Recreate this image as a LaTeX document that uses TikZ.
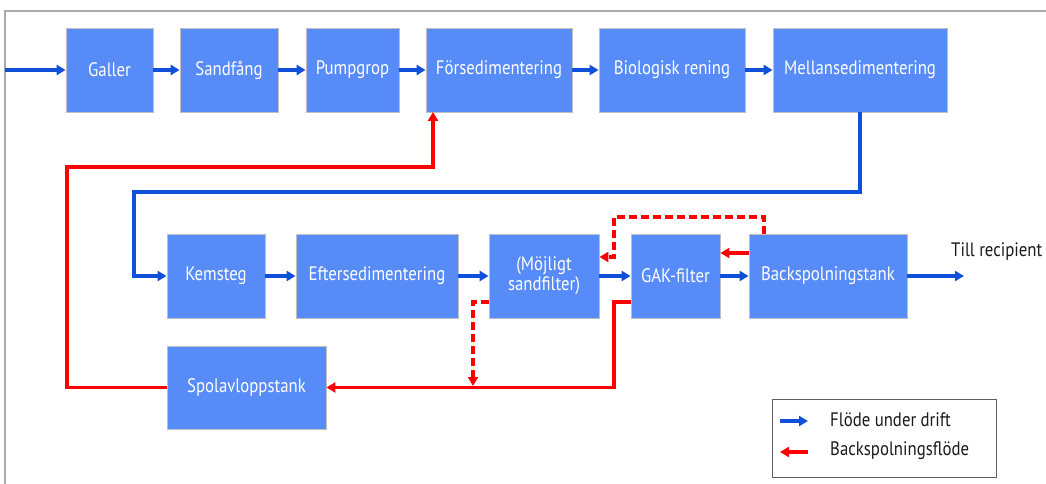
\documentclass[tikz,border=0pt]{standalone}
\usepackage{fontspec}
\setmainfont[FakeStretch=0.86]{PT Sans}
\usetikzlibrary{arrows.meta}
\definecolor{boxfill}{HTML}{568BF8}
\definecolor{boxline}{HTML}{C0C0C0}
\definecolor{flowblue}{HTML}{1050D8}
\definecolor{backred}{HTML}{FF0000}
\definecolor{frame}{HTML}{AAAAAA}
\definecolor{txt}{HTML}{1A1A1A}
\begin{document}
\begin{tikzpicture}[x=1pt,y=-1pt,
  proc/.style={draw=boxline,line width=0.8pt,fill=boxfill,text=white,
    minimum height=84pt,inner sep=2pt,align=center,
    font=\fontsize{19.5}{21}\selectfont},
  flow/.style={draw=flowblue,line width=3.2pt,
    -{Triangle[length=9pt,width=10pt]}},
  back/.style={draw=backred,line width=3.2pt,
    -{Triangle[length=9pt,width=10pt]}},
  backd/.style={back,dash pattern=on 8pt off 4pt},
  plain/.style={text=txt,font=\fontsize{19.5}{21}\selectfont,inner sep=0pt}]
\useasboundingbox (0,0) rectangle (1046,484);
\draw[frame,line width=1.5pt] (1046,11) -- (5,11) -- (5,484);
% row 1
\node[proc,minimum width=87pt]  (gal) at (109.5,70) {Galler};
\node[proc,minimum width=98pt]  (san) at (229,70) {Sandfång};
\node[proc,minimum width=93pt]  (pum) at (352.5,70) {Pumpgrop};
\node[proc,minimum width=146pt] (for) at (499,70) {Försedimentering};
\node[proc,minimum width=146pt] (bio) at (672,70) {Biologisk rening};
\node[proc,minimum width=174pt] (mel) at (860,70) {Mellansedimentering};
% row 2
\node[proc,minimum width=98pt]  (kem) at (216,276) {Kemsteg};
\node[proc,minimum width=162pt] (eft) at (377,276) {Eftersedimentering};
\node[proc,minimum width=110pt] (moj) at (544,276) {(Möjligt\\[-1pt]sandfilter)};
\node[proc,minimum width=89pt]  (gak) at (675.5,276) {GAK-filter};
\node[proc,minimum width=158pt] (bst) at (828,276) {Backspolningstank};
% row 3
\node[proc,minimum width=159pt,minimum height=83pt] (spo) at (246.5,387.5) {Spolavloppstank};
% texts
\node[plain,anchor=west] (rec) at (951,252) {Till recipient};
% coordinates
\coordinate (in) at (5,70);
\coordinate (c1) at (134,192);
\coordinate (r1) at (67,167);
\coordinate (r2) at (433,112);
\coordinate (out) at (964,276);
\coordinate (g1) at (614,302);
\coordinate (m1) at (473,386);
\coordinate (d1) at (764,217);
\coordinate (d2) at (614,257);
% blue flow
\draw[flow] (in) -- (gal.west);
\draw[flow] (gal) -- (san);
\draw[flow] (san) -- (pum);
\draw[flow] (pum) -- (for);
\draw[flow] (for) -- (bio);
\draw[flow] (bio) -- (mel);
\draw[flow] (mel.south) |- (c1) |- (kem.west);
\draw[flow] (kem) -- (eft);
\draw[flow] (eft) -- (moj);
\draw[flow] (moj) -- (gak);
\draw[flow] (gak) -- (bst);
\draw[flow] (bst.east) -- (out);
% red backwash
\draw[back] (spo.west) -| (r1) -| (r2);
\draw[back] (gak.west |- g1) -- (g1) |- (spo.east);
\draw[back] (bst.west |- 0,253) -- (gak.east |- 0,253);
\draw[backd] (bst.north -| d1) -- (d1) -| (d2) -- (moj.east |- d2);
\draw[backd] (moj.west |- g1) -| (m1);
% legend
\node[draw=txt!70,line width=1pt,minimum width=224pt,minimum height=78pt,inner sep=0pt] (leg) at (884,438) {};
\coordinate (l1a) at (780,421);
\coordinate (l1b) at (808,421);
\coordinate (l2a) at (808,452);
\coordinate (l2b) at (780,452);
\draw[flow] (l1a) -- (l1b);
\draw[back] (l2a) -- (l2b);
\node[plain,anchor=west] (lt1) at (830,420) {Flöde under drift};
\node[plain,anchor=west] (lt2) at (830,451) {Backspolningsflöde};
\end{tikzpicture}
\end{document}
